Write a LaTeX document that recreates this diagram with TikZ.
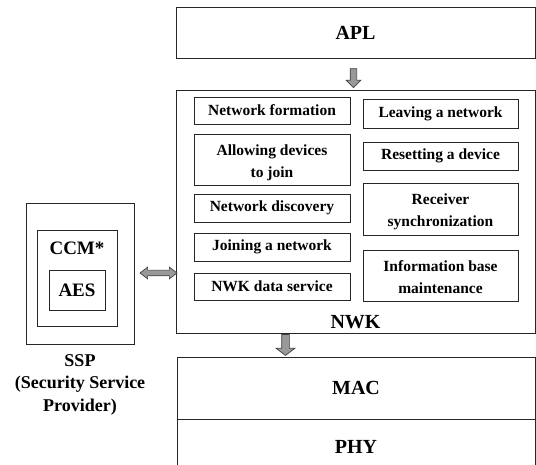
\documentclass[tikz,border=0pt]{standalone}
\usepackage{fontspec}
\setmainfont{Liberation Serif}
\usetikzlibrary{shapes.arrows}
\newcommand{\topstrut}[1]{\rule{0pt}{#1}}
\begin{document}
\begin{tikzpicture}[x=1pt,y=-1pt,
  box/.style={draw=black!85, line width=0.8pt, inner sep=0pt, align=center,
    font=\bfseries\fontsize{15.5}{22}\selectfont},
  bigbox/.style={draw=black!85, line width=0.8pt, inner sep=0pt, align=center,
    font=\bfseries\fontsize{20}{24}\selectfont},
  biglbl/.style={inner sep=0pt, align=center, font=\bfseries\fontsize{20}{24}\selectfont},
  blockarrow/.style={draw=black!75, fill=black!40, line width=0.7pt, inner sep=0pt}
]
\useasboundingbox (0,0) rectangle (536,465);

% APL
\node[bigbox, minimum width=359, minimum height=51] (apl) at (355.5,32.5) {APL};

% NWK
\node[draw=black!85, line width=0.8pt, minimum width=359, minimum height=243, inner sep=0pt] (nwk) at (355.5,211.5) {};
\node[biglbl] (nwklbl) at (355.5,322) {NWK};

% left column
\node[box, minimum width=156, minimum height=27] (nf) at (272,110.5) {Network formation};
\node[box, minimum width=156, minimum height=51] (adj) at (272,159.5) {\topstrut{17pt}Allowing devices\\to join};
\node[box, minimum width=156, minimum height=28] (nd) at (272,208) {Network discovery};
\node[box, minimum width=156, minimum height=28] (jn) at (272,247) {Joining a network};
\node[box, minimum width=156, minimum height=27] (nds) at (272,286.5) {NWK data service};

% right column
\node[box, minimum width=155, minimum height=29] (ln) at (440.5,113.5) {Leaving a network};
\node[box, minimum width=155, minimum height=28] (rd) at (440.5,156) {Resetting a device};
\node[box, minimum width=155, minimum height=52] (rs) at (440.5,209) {\topstrut{17pt}Receiver\\synchronization};
\node[box, minimum width=155, minimum height=51] (ibm) at (440.5,275.5) {\topstrut{14pt}Information base\\maintenance};

% MAC / PHY
\node[bigbox, minimum width=358, minimum height=62] (mac) at (356,388) {MAC};
\node[bigbox, minimum width=358, minimum height=56] (phy) at (356,447) {PHY};

% SSP
\node[draw=black!85, line width=0.8pt, minimum width=108, minimum height=141, inner sep=0pt] (ssp) at (80,273.5) {};
\node[draw=black!85, line width=0.8pt, minimum width=80, minimum height=96, inner sep=0pt] (ccm) at (77,278) {};
\node[inner sep=0pt, font=\bfseries\fontsize{19}{22}\selectfont] (ccmlbl) at (77,248) {CCM*};
\node[draw=black!85, line width=0.8pt, minimum width=56, minimum height=40, inner sep=0pt,
  font=\bfseries\fontsize{19}{22}\selectfont] (aes) at (77,290) {AES};
\node[inner sep=0pt, align=center, font=\bfseries\fontsize{18}{22.5}\selectfont] (ssplbl) at (80,382)
  {\topstrut{17pt}SSP\\(Security Service\\Provider)};

% block arrows
\node[blockarrow, single arrow, shape border rotate=270, minimum height=19, minimum width=14,
  inner sep=3pt, single arrow head extend=4pt, single arrow tip angle=90] (a1) at (353.5,76.5) {};
\node[blockarrow, single arrow, shape border rotate=270, minimum height=21, minimum width=18,
  inner sep=3.5pt, single arrow head extend=5.5pt, single arrow tip angle=105] (a2) at (285.5,343.5) {};
\node[blockarrow, double arrow, minimum height=37, minimum width=11,
  inner sep=2.5pt, double arrow head extend=3pt, double arrow tip angle=75] (a3) at (158.5,273) {};
\end{tikzpicture}
\end{document}
